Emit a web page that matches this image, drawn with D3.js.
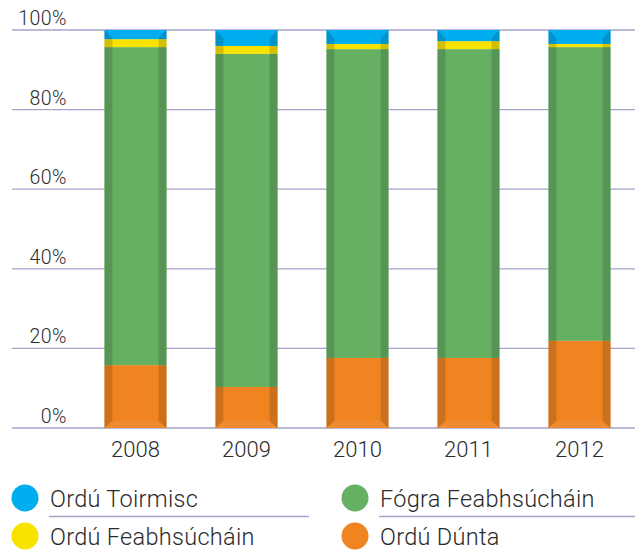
<!DOCTYPE html>
<html>
<head>
<meta charset="utf-8">
<script src="https://cdn.jsdelivr.net/npm/d3@7"></script>
<style>
  body { margin: 0; background: #fff; }
  svg text { font-family: Roboto, "Noto Sans", sans-serif; font-weight: 300; fill: #2b2b2b; }
</style>
</head>
<body>
<svg id="chart" width="635" height="551"></svg>
<script>
const years = ['2008', '2009', '2010', '2011', '2012'];
// percentage shares, bottom to top
const orduDunta = [15.8, 10.3, 17.6, 17.6, 21.9];
const fograFeabhsuchain = [79.9, 83.7, 77.6, 77.6, 73.8];
const orduFeabhsuchain = [2.0, 2.0, 1.3, 2.0, 0.8];
const orduToirmisc = [2.3, 4.0, 3.5, 2.8, 3.5];
const yTicks = [0, 20, 40, 60, 80, 100];

const series = [
  { key: 'Ordú Dúnta', values: orduDunta, color: '#ef8421' },
  { key: 'Fógra Feabhsúcháin', values: fograFeabhsuchain, color: '#65b062' },
  { key: 'Ordú Feabhsúcháin', values: orduFeabhsuchain, color: '#f7e200' },
  { key: 'Ordú Toirmisc', values: orduToirmisc, color: '#00adee' },
];
const legendOrder = ['Ordú Toirmisc', 'Fógra Feabhsúcháin', 'Ordú Feabhsúcháin', 'Ordú Dúnta'];

const svg = d3.select('#chart');

const xScale = d3.scaleBand().domain(years).range([80, 635]).paddingInner(0.44).paddingOuter(0.22);
const yScale = d3.scaleLinear().domain([0, 100]).range([428, 30]);

// gridlines
svg.append('g')
  .selectAll('line')
  .data(yTicks)
  .join('line')
  .attr('x1', 12)
  .attr('x2', 635)
  .attr('y1', (d) => yScale(d))
  .attr('y2', (d) => yScale(d))
  .attr('stroke', '#a4a3cb')
  .attr('stroke-width', 1.3);

svg.append('g')
  .selectAll('text')
  .data(yTicks)
  .join('text')
  .attr('x', 67)
  .attr('y', (d) => yScale(d) - 5)
  .attr('text-anchor', 'end')
  .style('font-size', '19.5px')
  .style('letter-spacing', '0.5px')
  .text((d) => d + '%');

// stacked data
const rows = years.map((y, i) => {
  const r = { year: y };
  series.forEach((s) => (r[s.key] = s.values[i]));
  return r;
});
const stacked = d3.stack().keys(series.map((s) => s.key))(rows);
const colorOf = d3.scaleOrdinal().domain(series.map((s) => s.key)).range(series.map((s) => s.color));

const bw = xScale.bandwidth();
const side = 8;

svg.append('g')
  .selectAll('g')
  .data(stacked)
  .join('g')
  .attr('fill', (d) => colorOf(d.key))
  .selectAll('rect')
  .data((d) => d)
  .join('rect')
  .attr('x', (d) => xScale(d.data.year))
  .attr('y', (d) => yScale(d[1]))
  .attr('width', bw)
  .attr('height', (d) => yScale(d[0]) - yScale(d[1]));

// bevelled sides and bottom
const bevel = svg.append('g');
years.forEach((yr) => {
  const x0 = xScale(yr);
  const x1 = x0 + bw;
  const top = yScale(100);
  const bot = yScale(0);
  bevel.append('polygon')
    .attr('points', [[x0, top], [x0 + side, top + side], [x0 + side, bot - 7], [x0, bot]].join(' '))
    .attr('fill', '#000').attr('opacity', 0.15);
  bevel.append('polygon')
    .attr('points', [[x1, top], [x1 - side, top + side], [x1 - side, bot - 7], [x1, bot]].join(' '))
    .attr('fill', '#000').attr('opacity', 0.15);
  bevel.append('polygon')
    .attr('points', [[x0, bot], [x0 + side, bot - 7], [x1 - side, bot - 7], [x1, bot]].join(' '))
    .attr('fill', '#fff').attr('opacity', 0.06);
});

// x axis labels
svg.append('g')
  .selectAll('text')
  .data(years)
  .join('text')
  .attr('x', (d) => xScale(d) + bw / 2)
  .attr('y', 457)
  .attr('text-anchor', 'middle')
  .style('font-size', '22px')
  .text((d) => d);

// legend
const legend = svg.append('g')
  .selectAll('g')
  .data(legendOrder)
  .join('g')
  .attr('transform', (d, i) => `translate(${i % 2 === 0 ? 25 : 355},${i < 2 ? 498 : 536})`);

legend.append('circle')
  .attr('r', 13.5)
  .attr('fill', (d) => colorOf(d));

legend.append('text')
  .attr('x', 25)
  .attr('y', 8.5)
  .style('font-size', '23.5px')
  .style('letter-spacing', '0.3px')
  .text((d) => d);

legend.filter((d, i) => i < 2)
  .append('line')
  .attr('x1', 24)
  .attr('x2', (d, i) => (i === 0 ? 284 : 280))
  .attr('y1', 18.5)
  .attr('y2', 18.5)
  .attr('stroke', '#a4a3cb')
  .attr('stroke-width', 1.3);
</script>
</body>
</html>
